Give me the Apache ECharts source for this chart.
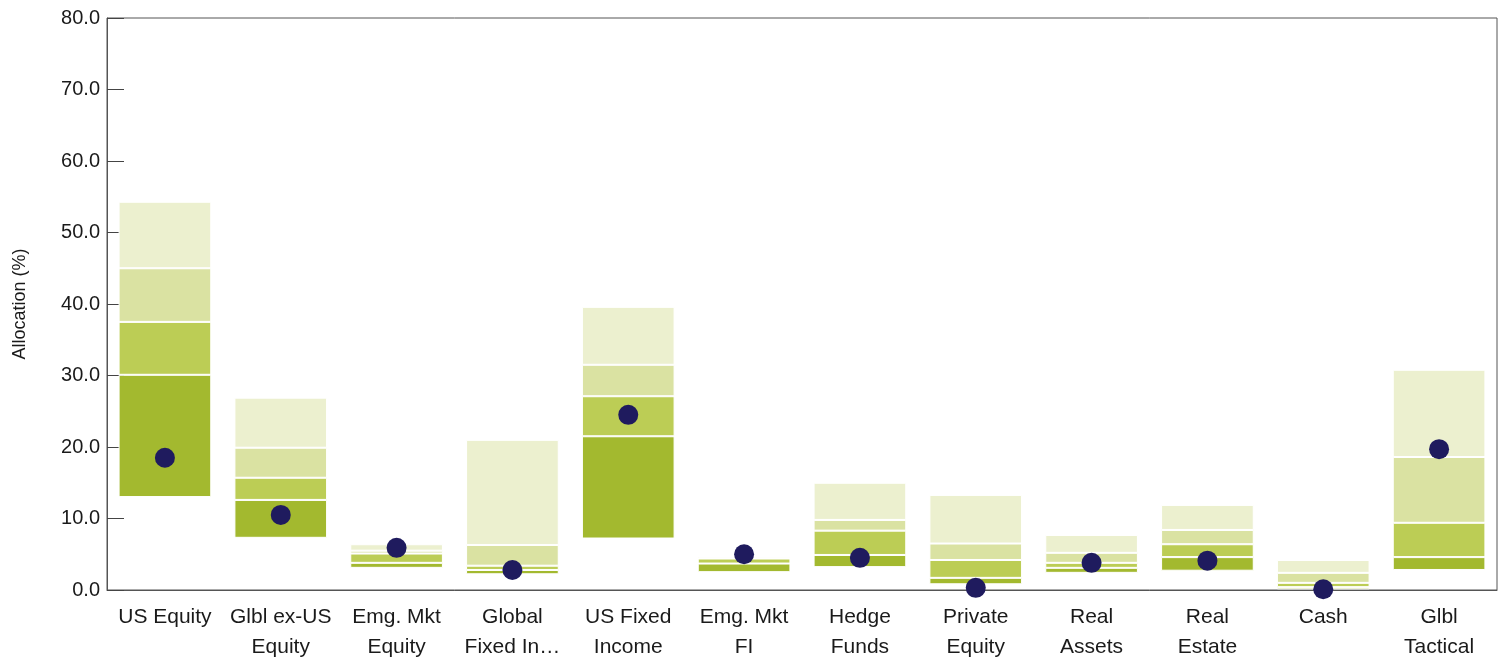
<!DOCTYPE html>
<html>
<head>
<meta charset="utf-8">
<script src="https://cdn.jsdelivr.net/npm/echarts@6/dist/echarts.min.js"></script>
<style>
html,body{margin:0;padding:0;background:#fff;}
#chart{width:1504px;height:665px;}
</style>
</head>
<body>
<div id="chart"></div>
<script>
const categories = ['US Equity','Glbl ex-US\nEquity','Emg. Mkt\nEquity','Global\nFixed In…','US Fixed\nIncome','Emg. Mkt\nFI','Hedge\nFunds','Private\nEquity','Real\nAssets','Real\nEstate','Cash','Glbl\nTactical'];
const p5  = [13.0, 7.3, 3.1, 2.2, 7.2, 2.5, 3.2, 0.8, 2.4, 2.7, 0.1, 2.8];
const p25 = [30.1, 12.6, 3.8, 2.8, 21.5, 3.7, 4.9, 1.7, 3.1, 4.6, 0.4, 4.6];
const p50 = [37.5, 15.7, 5.1, 3.4, 27.1, 4.4, 8.3, 4.2, 3.8, 6.4, 1.0, 9.4];
const p75 = [45.0, 19.9, 5.5, 6.3, 31.5, 4.6, 9.8, 6.5, 5.2, 8.4, 2.4, 18.6];
const p95 = [54.3, 26.9, 6.4, 21.0, 39.6, 4.8, 15.0, 13.3, 7.7, 11.9, 4.2, 30.8];
const portfolio = [18.5, 10.5, 5.9, 2.8, 24.5, 5.0, 4.5, 0.3, 3.8, 4.1, 0.1, 19.7];
const yTicks = [0, 10, 20, 30, 40, 50, 60, 70, 80];

const diff = (a, b) => a.map((v, i) => +(v - b[i]).toFixed(2));
const segColors = ['#a3b92f', '#bccd55', '#dae2a2', '#ecf0cf'];
const segData = [diff(p25, p5), diff(p50, p25), diff(p75, p50), diff(p95, p75)];

const font = 'Liberation Sans, Arial, sans-serif';
const series = [{
  type: 'bar', stack: 'b', data: p5, barWidth: '80%',
  itemStyle: { color: 'transparent' }, silent: true
}];
segData.forEach((d, k) => series.push({
  type: 'bar', stack: 'b', data: d, barWidth: '80%',
  itemStyle: { color: segColors[k], borderColor: '#ffffff', borderWidth: 1 }
}));
series.push({
  type: 'scatter', data: portfolio, symbolSize: 20, z: 10,
  itemStyle: { color: '#1f1b5e', opacity: 1 }
});

const chart = echarts.init(document.getElementById('chart'));
chart.setOption({
  animation: false,
  backgroundColor: '#fff',
  grid: { left: 107, right: 7, top: 18, bottom: 75, show: true, borderColor: '#555', borderWidth: 1 },
  xAxis: {
    type: 'category', data: categories,
    axisLine: { lineStyle: { color: '#555' } },
    axisTick: { show: false },
    axisLabel: { color: '#1a1a1a', fontSize: 21, fontFamily: font, margin: 12, lineHeight: 30, interval: 0 }
  },
  yAxis: {
    type: 'value', min: yTicks[0], max: yTicks[yTicks.length - 1], interval: 10,
    name: 'Allocation (%)', nameLocation: 'middle', nameGap: 78,
    nameTextStyle: { color: '#1a1a1a', fontSize: 18, fontFamily: font },
    axisLine: { show: true, lineStyle: { color: '#555' } },
    axisTick: { show: true, inside: true, length: 17, lineStyle: { color: '#444' } },
    splitLine: { show: false },
    axisLabel: { color: '#1a1a1a', fontSize: 20, fontFamily: font, margin: 7, formatter: v => v.toFixed(1) }
  },
  series: series
});
</script>
</body>
</html>
